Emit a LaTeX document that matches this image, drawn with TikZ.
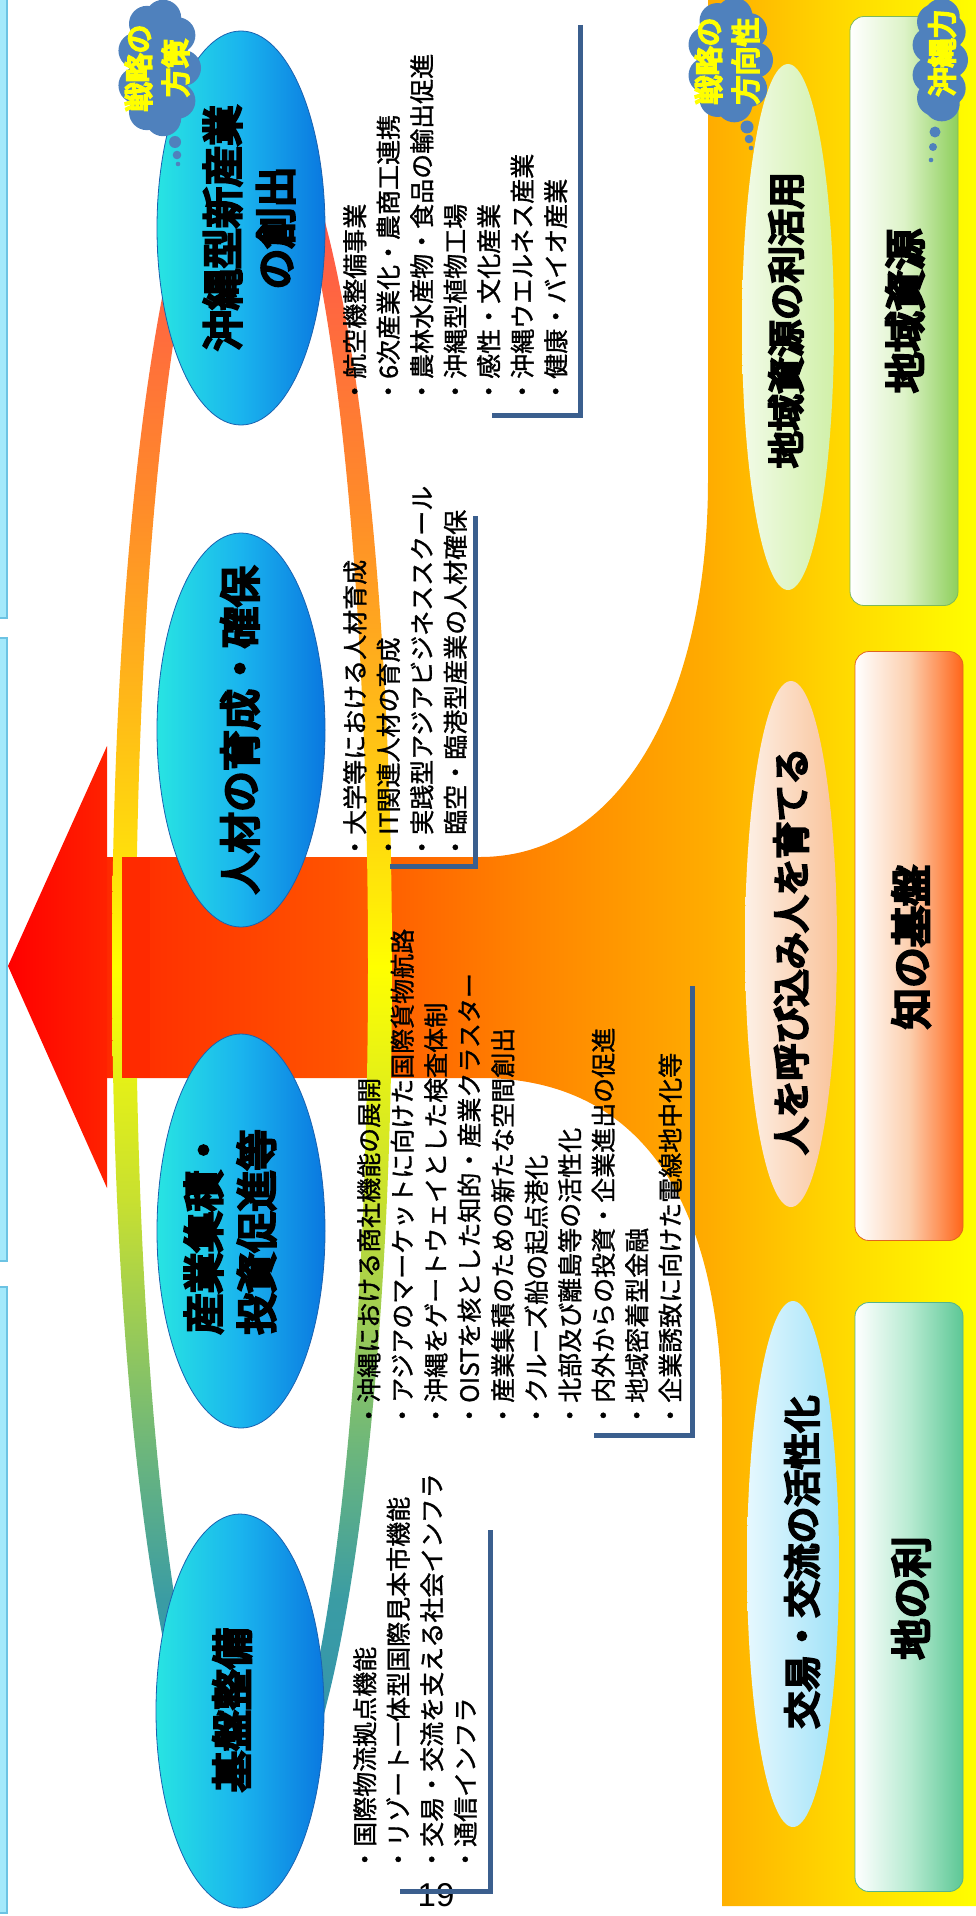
\documentclass[tikz,border=0pt]{standalone}
\usepackage{fontspec}
\usetikzlibrary{shapes.geometric}
\newfontfamily\jp{Noto Sans CJK JP}[FakeBold=1.2]
\newfontfamily\jph{Noto Sans CJK JP}[FakeBold=7]
\newfontfamily\numfont{Liberation Sans}

\definecolor{stripfill}{HTML}{A4E9FB}
\definecolor{stripdraw}{HTML}{6CC3E3}
\definecolor{bracketc}{HTML}{3B5F8E}
\definecolor{cloudc}{HTML}{4F81BD}
\definecolor{cloudtxt}{HTML}{FFFF00}
\definecolor{ebL}{HTML}{28E4E2}
\definecolor{ebM}{HTML}{1AB4EE}
\definecolor{ebR}{HTML}{0A78E0}
\definecolor{ebD}{HTML}{1A62B0}
\definecolor{rA}{HTML}{FF2A00}
\definecolor{rB}{HTML}{FF5200}
\definecolor{rC}{HTML}{FF8400}
\definecolor{rD}{HTML}{FFAC00}
\definecolor{rE}{HTML}{FFDA00}
\definecolor{rF}{HTML}{FFFF00}
\definecolor{kA}{HTML}{2F8FB5}
\definecolor{kB}{HTML}{3A9CA4}
\definecolor{kC}{HTML}{6CB67C}
\definecolor{kD}{HTML}{C8E030}
\definecolor{kE}{HTML}{FFFF00}
\definecolor{kF}{HTML}{FFEA08}
\definecolor{kG}{HTML}{FFB818}
\definecolor{kH}{HTML}{FF8A2A}
\definecolor{kI}{HTML}{FF5A48}
\definecolor{kJ}{HTML}{FF4858}
\definecolor{arrowA}{HTML}{FF0000}
\definecolor{arrowB}{HTML}{FF2200}
\definecolor{gL}{HTML}{F2FBE8}
\definecolor{gR}{HTML}{D0F0A8}
\definecolor{pL}{HTML}{FDF0E6}
\definecolor{pR}{HTML}{F9C39A}
\definecolor{bL}{HTML}{E6F8FE}
\definecolor{bR}{HTML}{A0E2F8}
\definecolor{box1M}{HTML}{DDF3C8}
\definecolor{box1R}{HTML}{8ECF5C}
\definecolor{box1D}{HTML}{7DB85A}
\definecolor{box2M}{HTML}{FCCFAE}
\definecolor{box2R}{HTML}{FF6418}
\definecolor{box2D}{HTML}{E0651F}
\definecolor{box3M}{HTML}{B8EBD2}
\definecolor{box3R}{HTML}{5CC795}
\definecolor{box3D}{HTML}{55B48A}

\pgfdeclarehorizontalshading{regsh}{100bp}{color(0bp)=(rA); color(25bp)=(rA); color(37.9bp)=(rB); color(49.2bp)=(rC); color(59.5bp)=(rD); color(67.3bp)=(rE); color(75bp)=(rF); color(100bp)=(rF)}
\pgfdeclareverticalshading{ringsh}{100bp}{color(0bp)=(kA); color(25bp)=(kA); color(31.8bp)=(kB); color(36.1bp)=(kC); color(43.3bp)=(kD); color(50bp)=(kE); color(51.9bp)=(kF); color(57.6bp)=(kG); color(63.4bp)=(kH); color(71bp)=(kI); color(75bp)=(kJ); color(100bp)=(kJ)}

\newcommand\cloudblob[4]{%
  \fill[cloudc] (#1,#2) ellipse [x radius=#3-12, y radius=#4-12];
  \foreach \a in {0,40,...,320}{\fill[cloudc] ({#1+(#3-18)*cos(\a)},{#2+(#4-18)*sin(\a)}) circle [radius=18];}
}

\tikzset{
  blueell/.style={ellipse, minimum width=168pt, minimum height=394pt, inner sep=0pt,
    left color=ebL, right color=ebR, middle color=ebM, draw=ebD, line width=0.8pt},
  lightell/.style={ellipse, minimum width=92pt, minimum height=526pt, inner sep=0pt},
  sidebox/.style={rectangle, rounded corners=14pt, minimum width=108pt, minimum height=589pt, inner sep=0pt, line width=0.8pt},
  heavytxt/.style={rotate=90, inner sep=0pt, align=center, text=black, font=\jph\fontsize{41}{53}\selectfont},
  midtxt/.style={rotate=90, inner sep=0pt, align=center, text=black, font=\jph\fontsize{37}{45}\selectfont},
  cloudtext/.style={rotate=90, inner sep=0pt, align=center, text=cloudtxt, font=\jph\fontsize{29}{37}\selectfont},
  blist/.style={rotate=90, anchor=north west, align=left, inner sep=0pt, text=black, font=\jp\fontsize{25}{33.5}\selectfont},
  bracket/.style={draw=bracketc, line width=5pt}
}

\begin{document}
\begin{tikzpicture}[x=1pt,y=-1pt]
\clip (0,0) rectangle (976,1916);

% left strips (edges of cut-off boxes)
\foreach \ya/\yb in {-10/618, 638/1261, 1287/1913}
  \draw[fill=stripfill, draw=stripdraw, line width=1.5pt] (-10,\ya) rectangle (7,\yb);

% big orange region with arrow shaft
\begin{scope}
  \clip (107,857) -- (480,857) .. controls (620,857) and (708,700) .. (708,480) -- (708,-10) -- (990,-10) -- (990,1906) -- (722,1906) -- (722,1420) .. controls (722,1200) and (640,1078) .. (480,1078) -- (107,1078) -- cycle;
  \shade[shading=regsh] (107,-10) rectangle (980,1920);
\end{scope}

% coloured ring
\shade[shading=ringsh, even odd rule] (252,966) ellipse [x radius=140, y radius=872] (252,966) ellipse [x radius=116, y radius=848];

% arrow head
\shade[left color=arrowA, right color=arrowB] (8,966) -- (107,746) -- (107,1188) -- cycle;
\fill[rA] (122,857) rectangle (150,1078);

% blue ellipses
\node[blueell] (e1) at (241,228) {};
\node[blueell] (e2) at (241,730) {};
\node[blueell] (e3) at (241,1231) {};
\node[blueell] (e4) at (240,1711) {};
\node[heavytxt] (e1t) at (249,228) {沖縄型新産業\\の創出};
\node[heavytxt] (e2t) at (240,730) {人材の育成・確保};
\node[heavytxt] (e3t) at (230,1232) {産業集積・\\投資促進等};
\node[heavytxt] (e4t) at (232,1710) {基盤整備};

% bullet lists
\node[blist] (b1) at (343,404) {・航空機整備事業\\・6次産業化・農商工連携\\・農林水産物・食品の輸出促進\\・沖縄型植物工場\\・感性・文化産業\\・沖縄ウエルネス産業\\・健康・バイオ産業};
\node[blist] (b2) at (343,860) {・大学等における人材育成\\・IT関連人材の育成\\・実践型アジアビジネススクール\\・臨空・臨港型産業の人材確保};
\node[blist] (b3) at (357,1428) {・沖縄における商社機能の展開\\・アジアのマーケットに向けた国際貨物航路\\・沖縄をゲートウェイとした検査体制\\・OISTを核とした知的・産業クラスター\\・産業集積のための新たな空間創出\\・クルーズ船の起点港化\\・北部及び離島等の活性化\\・内外からの投資・企業進出の促進\\・地域密着型金融\\・企業誘致に向けた電線地中化等};
\node[blist] (b4) at (353,1872) {・国際物流拠点機能\\・リゾート一体型国際見本市機能\\・交易・交流を支える社会インフラ\\・通信インフラ};

% brackets
\draw[bracket] (580,25) -- (580,415) -- (492,415);
\draw[bracket] (475,516) -- (475,866) -- (390,866);
\draw[bracket] (692,986) -- (692,1435) -- (594,1435);

% direction ellipses
\node[lightell, left color=gL, right color=gR] (l1) at (788,327) {};
\node[lightell, left color=pL, right color=pR] (l2) at (791,944) {};
\node[lightell, left color=bL, right color=bR] (l3) at (793,1564) {};
\node[midtxt] (l1t) at (786,320) {地域資源の利活用};
\node[midtxt] (l2t) at (791,951) {人を呼び込み人を育てる};
\node[midtxt] (l3t) at (802,1562) {交易・交流の活性化};

% resource boxes
\node[sidebox, left color=white, right color=box1R, middle color=box1M, draw=box1D] (r1) at (904,311) {};
\node[sidebox, left color=white, right color=box2R, middle color=box2M, draw=box2D] (r2) at (909,946) {};
\node[sidebox, left color=white, right color=box3R, middle color=box3M, draw=box3D] (r3) at (909,1597) {};
\node[heavytxt] (r1t) at (905,311) {地域資源};
\node[heavytxt] (r2t) at (911,947) {知の基盤};
\node[heavytxt] (r3t) at (911,1598) {地の利};

% clouds
\cloudblob{159}{68}{42}{69}
\fill[cloudc] (175,142) circle [radius=6] (177,155) circle [radius=4.3] (178,164) circle [radius=2.3];
\node[cloudtext] (c1t) at (157,68) {戦略の\\方策};

\cloudblob{730}{60}{43}{63}
\fill[cloudc] (747,127) circle [radius=6.5] (749,139) circle [radius=4.3] (751,148) circle [radius=2.3];
\node[cloudtext] (c2t) at (727,61) {戦略の\\方向性};

\cloudblob{940}{60}{28}{62}
\fill[cloudc] (935,132) circle [radius=5.5] (933,147) circle [radius=4] (931,160) circle [radius=2.3];
\node[cloudtext] (c3t) at (942,53) {沖縄力};

% page number and last bracket
\node[inner sep=0pt, font=\numfont\fontsize{33}{33}\selectfont] (pg) at (436,1895) {19};
\draw[bracket] (490,1530) -- (490,1891) -- (400,1891);
\end{tikzpicture}
\end{document}
